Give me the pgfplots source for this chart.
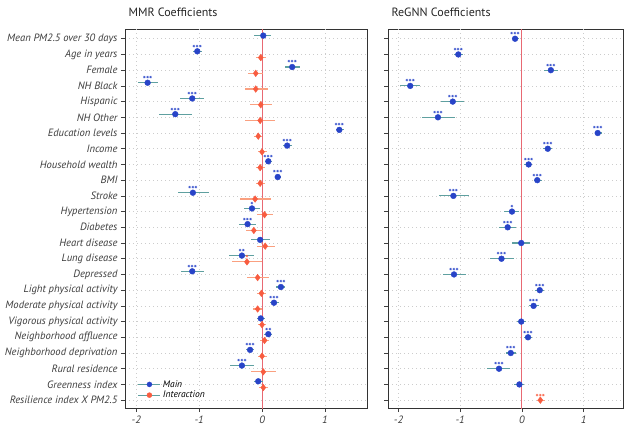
\documentclass[border=0pt]{standalone}
\usepackage{fontspec}
\setmainfont{PT Sans}
\usepackage{pgfplots}
\usepackage{pgfplotstable}
\pgfplotsset{compat=1.18}

\definecolor{mblue}{RGB}{40,68,200}
\definecolor{mred}{RGB}{248,92,64}
\definecolor{ciblue}{RGB}{95,160,160}
\definecolor{cired}{RGB}{250,160,128}
\definecolor{zline}{RGB}{232,105,115}
\definecolor{lbl}{RGB}{60,60,60}

% columns: row, estimate, lower, upper, significance stars
\pgfplotstableread{
row x lo hi sig
0 0.02 -0.12 0.15 {}
1 -1.03 -1.10 -0.95 ***
2 0.48 0.36 0.60 ***
3 -1.82 -1.98 -1.65 ***
4 -1.11 -1.30 -0.92 ***
5 -1.38 -1.64 -1.11 ***
6 1.23 1.17 1.30 ***
7 0.40 0.34 0.48 ***
8 0.10 0.05 0.16 ***
9 0.25 0.20 0.30 ***
10 -1.10 -1.33 -0.85 ***
11 -0.16 -0.28 -0.03 *
12 -0.23 -0.37 -0.10 ***
13 -0.03 -0.18 0.12 {}
14 -0.32 -0.52 -0.13 **
15 -1.11 -1.29 -0.92 ***
16 0.30 0.23 0.37 ***
17 0.19 0.12 0.27 ***
18 -0.02 -0.08 0.05 {}
19 0.10 0.03 0.16 **
20 -0.19 -0.26 -0.12 ***
21 -0.32 -0.51 -0.13 ***
22 -0.06 -0.13 0.02 {}
}\mmrmain

\pgfplotstableread{
row x lo hi sig
1 -0.02 -0.09 0.06 {}
2 -0.10 -0.22 0.02 {}
3 -0.10 -0.27 0.09 {}
4 -0.02 -0.19 0.16 {}
5 -0.03 -0.27 0.21 {}
6 -0.06 -0.13 0.00 {}
7 0.00 -0.07 0.08 {}
8 -0.03 -0.10 0.05 {}
9 -0.03 -0.10 0.04 {}
10 -0.11 -0.35 0.14 {}
11 0.04 -0.08 0.17 {}
12 -0.13 -0.26 0.01 {}
13 0.05 -0.08 0.20 {}
14 -0.24 -0.47 0.00 *
15 -0.07 -0.24 0.11 {}
16 -0.01 -0.08 0.06 {}
17 -0.07 -0.14 0.00 {}
18 0.00 -0.06 0.07 {}
19 0.04 -0.03 0.11 {}
20 0.00 -0.07 0.08 {}
21 0.02 -0.18 0.22 {}
22 0.02 -0.05 0.09 {}
}\mmrint

\pgfplotstableread{
row x lo hi sig
0 -0.11 -0.16 -0.05 ***
1 -1.03 -1.10 -0.95 ***
2 0.47 0.36 0.59 ***
3 -1.81 -1.98 -1.65 ***
4 -1.12 -1.31 -0.93 ***
5 -1.36 -1.62 -1.09 ***
6 1.23 1.18 1.30 ***
7 0.42 0.35 0.49 ***
8 0.11 0.04 0.17 ***
9 0.25 0.19 0.32 ***
10 -1.11 -1.35 -0.86 ***
11 -0.16 -0.29 -0.04 *
12 -0.23 -0.37 -0.09 ***
13 -0.01 -0.16 0.14 {}
14 -0.33 -0.52 -0.13 ***
15 -1.10 -1.28 -0.91 ***
16 0.29 0.22 0.36 ***
17 0.19 0.11 0.27 ***
18 -0.01 -0.08 0.06 {}
19 0.10 0.03 0.17 ***
20 -0.18 -0.25 -0.10 ***
21 -0.37 -0.56 -0.19 ***
22 -0.04 -0.12 0.03 {}
}\regmain

\pgfplotstableread{
row x lo hi sig
23 0.30 0.24 0.37 ***
}\regint

\pgfplotsset{
  coefax/.style={
    scale only axis,
    height=379pt,
    ymin=-0.62, ymax=23.5,
    y dir=reverse,
    ytick={0,...,23},
    xtick={-2,-1,0,1},
    tick pos=left,
    tick align=outside,
    major tick length=4pt,
    tick style={black!75, line width=0.6pt},
    axis line style={black!80, line width=0.8pt},
    ymajorgrids=true,
    xmajorgrids=false,
    extra x ticks={-2,-1,1},
    extra x tick labels={},
    extra x tick style={xmajorgrids=true, major tick length=0pt},
    major grid style={gray!40, line width=0.5pt, dash pattern=on 1pt off 3pt},
    /pgf/number format/assume math mode=true,
    ticklabel style={font=\itshape\fontsize{10.6}{12}\selectfont, text=lbl},
    title style={at={(0,1)}, anchor=base west, yshift=7pt,
      font=\fontsize{12}{14}\selectfont, text=black!85},
    clip=true,
  },
  zero/.style={color=zline, line width=0.9pt, mark=none, forget plot},
  coef/.style={
    only marks,
    error bars/x dir=both,
    error bars/x explicit,
    error bars/error mark=none,
  },
  stars/.style={
    nodes near coords={\pgfplotspointmeta},
    point meta=explicit symbolic,
    nodes near coords style={font=\bfseries\fontsize{8.5}{8.5}\selectfont, text=#1,
      anchor=center, yshift=3.2pt, inner sep=0pt},
  },
}

\begin{document}
\begin{tikzpicture}
\useasboundingbox (0,0) rectangle (624pt,429pt);

\begin{axis}[
  coefax,
  at={(125pt,21pt)}, anchor=south west,
  width=242pt,
  xmin=-2.18, xmax=1.67,
  title={MMR Coefficients},
  yticklabels={Mean PM2.5 over 30 days, Age in years, Female, NH Black,
    Hispanic, NH Other, Education levels, Income, Household wealth, BMI,
    Stroke, Hypertension, Diabetes, Heart disease, Lung disease, Depressed,
    Light physical activity, Moderate physical activity,
    Vigorous physical activity, Neighborhood affluence,
    Neighborhood deprivation, Rural residence, Greenness index,
    Resilience index X PM2.5},
  legend style={at={(0.04,0.012)}, anchor=south west, draw=none, fill=none,
    font=\itshape\fontsize{9.5}{10}\selectfont, row sep=-1.5pt},
  legend cell align=left,
]
\addplot[zero] coordinates {(0,-1) (0,25)};
\addplot[coef, mark=*, mark size=2.9pt, mblue, forget plot,
  error bars/error bar style={ciblue, line width=1.1pt}, stars=mblue]
  table[x=x, y expr=\thisrow{row}-0.2, meta=sig,
    x error plus expr=\thisrow{hi}-\thisrow{x},
    x error minus expr=\thisrow{x}-\thisrow{lo}] {\mmrmain};
\addplot[coef, mark=diamond*, mark size=3.3pt, mred, forget plot,
  error bars/error bar style={cired, line width=1.1pt}, stars=mred]
  table[x=x, y expr=\thisrow{row}+0.2, meta=sig,
    x error plus expr=\thisrow{hi}-\thisrow{x},
    x error minus expr=\thisrow{x}-\thisrow{lo}] {\mmrint};
\addlegendimage{legend image code/.code={
  \draw[ciblue, line width=1.1pt] (0pt,0pt) -- (22pt,0pt);
  \fill[mblue] (11pt,0pt) circle (2.5pt);}}
\addlegendentry{Main}
\addlegendimage{legend image code/.code={
  \draw[ciblue, line width=1.1pt] (0pt,0pt) -- (22pt,0pt);
  \fill[mred] (11pt,0pt) circle (2.5pt);}}
\addlegendentry{Interaction}
\end{axis}

\begin{axis}[
  coefax,
  at={(388pt,21pt)}, anchor=south west,
  width=235pt,
  xmin=-2.17, xmax=1.64,
  title={ReGNN Coefficients},
  yticklabels={},
]
\addplot[zero] coordinates {(0,-1) (0,25)};
\addplot[coef, mark=*, mark size=2.9pt, mblue,
  error bars/error bar style={ciblue, line width=1.1pt}, stars=mblue]
  table[x=x, y=row, meta=sig,
    x error plus expr=\thisrow{hi}-\thisrow{x},
    x error minus expr=\thisrow{x}-\thisrow{lo}] {\regmain};
\addplot[coef, mark=diamond*, mark size=3.3pt, mred,
  error bars/error bar style={cired, line width=1.1pt}, stars=mred]
  table[x=x, y=row, meta=sig,
    x error plus expr=\thisrow{hi}-\thisrow{x},
    x error minus expr=\thisrow{x}-\thisrow{lo}] {\regint};
\end{axis}
\end{tikzpicture}
\end{document}
